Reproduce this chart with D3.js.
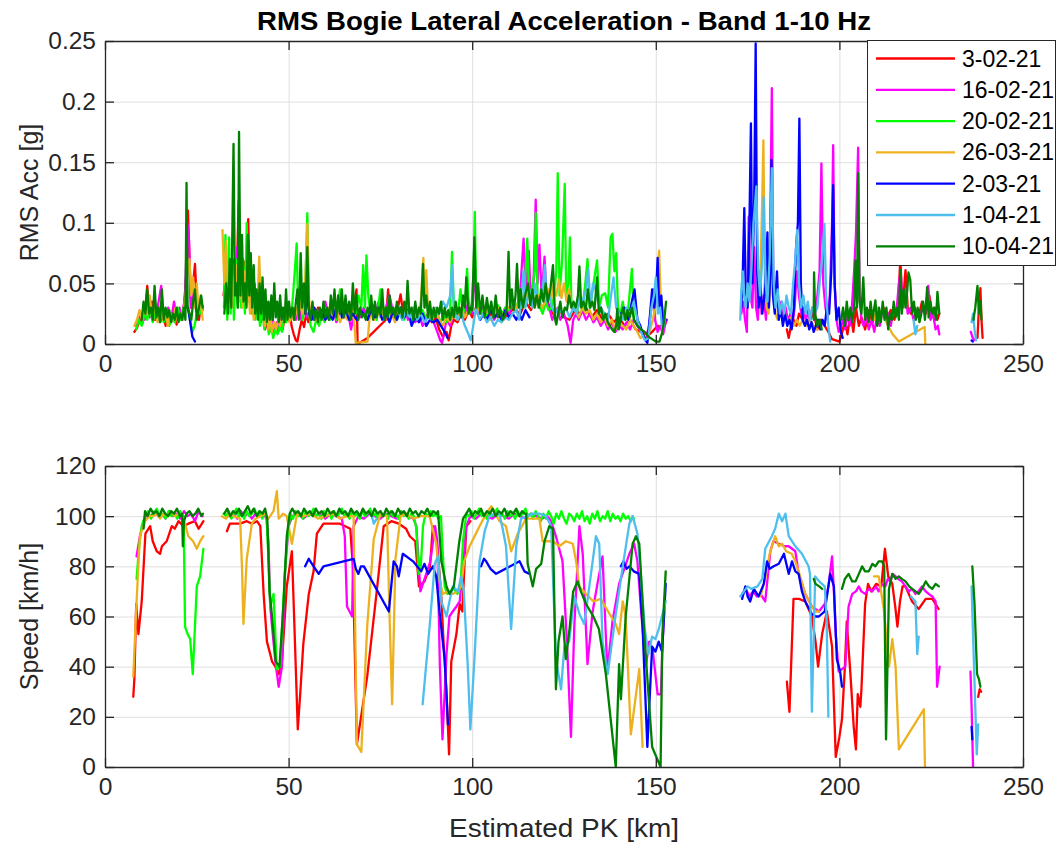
<!DOCTYPE html>
<html><head><meta charset="utf-8">
<script src="https://cdn.jsdelivr.net/npm/d3@7"></script>
<style>
html,body{margin:0;padding:0;background:#fff;}
svg{display:block;font-family:"Liberation Sans",Arial,Helvetica,sans-serif;}
</style></head>
<body>
<svg id="chart" width="1060" height="845"></svg>
<script>
// ---------- labels / ticks ----------
const chartTitle = "RMS Bogie Lateral Acceleration - Band 1-10 Hz";
const seriesNames = ["3-02-21","16-02-21","20-02-21","26-03-21","2-03-21","1-04-21","10-04-21"];
const seriesColors = ["#FF0000","#FF00FF","#00FF00","#EDB120","#0000FF","#4DBEEE","#008000"];
const xTicks = [0,50,100,150,200,250];
const accTicks = [0,0.05,0.1,0.15,0.2,0.25];
const accTickLabels = ["0","0.05","0.1","0.15","0.2","0.25"];
const spdTicks = [0,20,40,60,80,100,120];
const xLabel = "Estimated PK [km]";
const accLabel = "RMS Acc [g]";
const spdLabel = "Speed [km/h]";

// ---------- RMS acceleration [g] vs PK [km] (null = gap) ----------
const acc_3_02_21 = [[8,0.010],[8.8,0.014],[9.5,0.02],[10.2,0.017],[11,0.03],[11.5,0.048],[12,0.025],[12.8,0.035],[13.5,0.02],[14.2,0.03],[15,0.018],[15.8,0.026],[16.5,0.015],[17.3,0.024],[18,0.018],[18.8,0.028],[19.5,0.016],[20.3,0.025],[21,0.02],[21.6,0.035],[22.2,0.06],[22.6,0.11],[23,0.07],[23.4,0.03],[24,0.05],[24.5,0.066],[25,0.035],[25.6,0.02],[26.2,0.035],[26.6,0.03],null,
[32.3,0.04],[32.9,0.06],[33.4,0.03],[34,0.055],[34.6,0.035],[35.2,0.07],[35.8,0.045],[36.4,0.118],[36.9,0.05],[37.5,0.04],[38.1,0.068],[38.6,0.035],[39,0.103],[39.5,0.04],[40.1,0.03],[40.7,0.05],[41.3,0.025],[41.9,0.04],[42.5,0.018],[43,0.028],[43.6,0.012],[44.2,0.02],[44.8,0.01],[45.4,0.016],[46,0.008],[46.6,0.015],[47.2,0.01],[47.8,0.02],[48.4,0.012],[49,0.025],[49.6,0.02],[50.2,0.03],[50.8,0.015],[51.4,0.008],[52,0.003],[52.4,0.002],[53,0.012],[53.6,0.02],[54.2,0.014],[54.8,0.025],[55.4,0.018],[56,0.028],[57,0.02],[58,0.03],[59,0.022],[60,0.028],[61,0.02],[62,0.03],[63,0.024],[64,0.032],[65,0.022],[66,0.03],[67,0.025],[68,0.035],[68.5,0.045],[68.8,0.0],[71.5,0.005],[76.5,0.02],[77.1,0.045],[77.6,0.025],[78.3,0.03],[79,0.022],[79.8,0.03],[80.5,0.041],[81.2,0.025],[82,0.03],[83,0.022],[84,0.028],[85,0.02],[86,0.026],[87,0.02],[88,0.025],[89,0.018],[90,0.022],[91,0.012],[92,0.006],[93,0.01],[93.6,0.003],[94.3,0.015],[95,0.02],[96,0.018],[97,0.025],[98,0.02],[99,0.028],[100,0.022],[101,0.03],[102.5,0.025],[104,0.03],[105.5,0.022],[107,0.028],[108.5,0.02],[110,0.025],[111.5,0.03],[113,0.024],[114.5,0.035],[116,0.028],[117.5,0.04],[119,0.03],[120.5,0.035],[122,0.025],[123.5,0.03],[125,0.022],[126.5,0.02],[128,0.028],[129.5,0.025],[131,0.03],[132.5,0.022],[134,0.028],[135.5,0.02],[137,0.025],[138.5,0.018],[140,0.022],[141.5,0.015],[143,0.02],[144.5,0.012],[146,0.01],[147.5,0.006],[149,0.01],[150.5,0.015],[152,0.012],[153,0.02],null,
[185.7,0.012],[186.2,0.005],[186.8,0.015],[187.5,0.02],[188.3,0.015],[189,0.025],[190,0.02],[191,0.03],[192,0.02],[193,0.025],[194,0.012],[195,0.02],[196,0.015],[197,0.01],[198,0.004],[199,0.003],[200,0.002],[200.8,0.01],[201.5,0.02],[202.2,0.008],[203,0.025],[203.8,0.01],[204.5,0.03],[205.3,0.015],[206,0.022],[207,0.012],[208,0.028],[209,0.018],[210,0.025],[211,0.02],[212,0.03],[213,0.022],[214,0.028],[215,0.02],[216,0.035],[216.6,0.07],[217.2,0.03],[218,0.061],[218.6,0.03],[219.5,0.025],[220.5,0.03],[221.5,0.022],[222.5,0.035],[223.5,0.025],[224.5,0.04],[225.2,0.025],[226,0.03],[226.7,0.02],[227.2,0.025],null,
[237.6,0.005],[238,0.03],[238.4,0.046],[238.7,0.02],[239,0.005]];

const acc_16_02_21 = [[8.5,0.015],[9.2,0.02],[10,0.025],[10.8,0.02],[11.5,0.035],[12.2,0.022],[13,0.03],[13.8,0.02],[14.6,0.035],[15.3,0.048],[15.8,0.025],[16.5,0.02],[17.2,0.03],[18,0.02],[18.8,0.035],[19.5,0.022],[20.3,0.03],[21,0.02],[21.8,0.04],[22.4,0.1],[22.9,0.085],[23.4,0.03],[24,0.045],[24.6,0.03],[25.3,0.025],[26,0.035],[26.6,0.028],null,
[32.5,0.04],[33,0.03],[33.6,0.05],[34.2,0.035],[34.8,0.06],[35.4,0.04],[36,0.08],[36.5,0.05],[37,0.06],[37.6,0.04],[38.2,0.06],[38.8,0.035],[39.4,0.05],[40,0.03],[40.6,0.04],[41.2,0.025],[41.8,0.035],[42.4,0.022],[43,0.03],[43.6,0.018],[44.2,0.028],[44.8,0.015],[45.5,0.025],[46.2,0.01],[46.8,0.018],[47.5,0.012],[48.2,0.025],[49,0.018],[49.8,0.03],[50.5,0.022],[51.2,0.03],[52,0.02],[52.8,0.03],[53.5,0.02],[54.3,0.032],[55,0.022],[56,0.03],[57,0.02],[58,0.028],[59,0.022],[60,0.035],[61,0.02],[62,0.03],[63,0.018],[64,0.028],[65,0.022],[66,0.03],[67,0.012],[67.5,0.02],[68.5,0.03],[69.5,0.022],[70.5,0.03],[71.5,0.02],[72.5,0.028],[73.5,0.022],[74.5,0.035],[75.5,0.025],[76.5,0.03],[77.5,0.04],[78.5,0.025],[79.5,0.032],[80.5,0.024],[81.5,0.03],[82.5,0.02],[83.5,0.028],[84.5,0.018],[85.5,0.025],[86.5,0.015],[87.5,0.02],[88.5,0.025],[89.5,0.018],[90.5,0.01],[91.3,0.003],[91.8,0.001],[92.4,0.01],[93,0.02],[94,0.015],[95,0.025],[96,0.02],[97,0.03],[98,0.025],[99,0.035],[100,0.025],[100.7,0.06],[101.3,0.03],[102,0.025],[103,0.03],[104,0.022],[105,0.028],[106,0.02],[107,0.026],[108,0.022],[109,0.03],[110,0.024],[111,0.035],[112,0.028],[113,0.04],[114,0.087],[114.6,0.04],[115.4,0.077],[116,0.035],[116.7,0.05],[117.3,0.119],[117.8,0.05],[118.3,0.082],[118.9,0.04],[119.7,0.072],[120.3,0.035],[121,0.03],[121.8,0.02],[122.5,0.025],[123.3,0.03],[124,0.02],[125,0.025],[126,0.015],[126.8,0.001],[127.5,0.02],[128.3,0.025],[129,0.02],[130,0.028],[131,0.02],[132,0.025],[133,0.018],[134,0.022],[135,0.015],[136,0.02],[137,0.012],[138,0.018],[139,0.01],[140,0.015],[141,0.012],[142,0.018],[143,0.012],[144,0.02],[145,0.015],[146,0.01],[147,0.005],[148,0.012],[148.8,0.03],[149.3,0.045],[149.8,0.02],[150.5,0.01],[151.2,0.015],[152,0.008],[152.8,0.02],null,
[173.3,0.025],[173.8,0.035],[174.3,0.02],[174.8,0.01],[175.3,0.105],[175.8,0.04],[176.3,0.03],[176.8,0.08],[177.3,0.03],[177.8,0.02],[178.3,0.06],[178.8,0.025],[179.4,0.04],[180,0.02],[180.6,0.06],[181.1,0.08],[181.6,0.211],[182,0.05],[182.5,0.03],[183,0.045],[183.6,0.025],[184.2,0.035],[184.8,0.02],[185.4,0.03],[186,0.018],[186.6,0.025],[187.2,0.015],[187.8,0.03],[188.4,0.06],[189,0.04],[189.6,0.025],[190.2,0.03],[190.8,0.02],[191.4,0.025],[192,0.02],[192.6,0.03],[193.2,0.02],[194,0.04],[194.6,0.06],[195.1,0.149],[195.6,0.05],[196.2,0.03],[196.8,0.02],[197.4,0.04],[198,0.1],[198.3,0.164],[198.7,0.05],[199.2,0.02],[199.8,0.01],[200.5,0.015],[201,0.02],[201.6,0.012],[202.2,0.025],[202.8,0.015],[203.4,0.03],[204,0.06],[204.5,0.09],[205.1,0.162],[205.5,0.04],[206,0.02],[206.6,0.015],[207.2,0.025],[208,0.012],[208.8,0.02],[209.5,0.01],[210.2,0.022],[211,0.015],[211.8,0.03],[212.5,0.02],[213.3,0.025],[214,0.015],[214.8,0.03],[215.5,0.025],[216.2,0.05],[216.7,0.06],[217.2,0.03],[218,0.045],[218.6,0.025],[219.4,0.03],[220.2,0.02],[221,0.028],[221.8,0.02],[222.6,0.03],[223.4,0.025],[224.2,0.048],[224.8,0.02],[225.5,0.025],[226.2,0.012],[226.8,0.015],[227.2,0.008],null,
[235.8,0.01],[236.2,0.006],[236.6,0.003],[237,0.004]];

const acc_20_02_21 = [[8.5,0.012],[9.2,0.02],[10,0.015],[10.8,0.025],[11.5,0.02],[12.2,0.03],[13,0.018],[13.8,0.028],[14.5,0.02],[15.2,0.032],[16,0.018],[16.8,0.025],[17.5,0.015],[18.2,0.022],[19,0.018],[19.8,0.03],[20.5,0.02],[21.2,0.028],[22,0.035],[22.6,0.03],[23.2,0.02],[23.8,0.01],[24.4,0.015],[25,0.025],[25.6,0.035],[26.2,0.025],[26.7,0.03],null,
[32.4,0.03],[32.8,0.09],[33.3,0.02],[33.8,0.088],[34.2,0.025],[34.7,0.065],[35.1,0.02],[35.6,0.07],[36.1,0.03],[36.6,0.09],[37.1,0.03],[37.6,0.07],[38.1,0.025],[38.6,0.1],[39,0.035],[39.5,0.055],[40,0.025],[40.5,0.045],[41,0.02],[41.6,0.04],[42.2,0.015],[42.8,0.03],[43.4,0.012],[44,0.025],[44.6,0.008],[45.2,0.015],[45.8,0.005],[46.4,0.012],[47,0.008],[47.6,0.015],[48.2,0.01],[48.8,0.022],[49.4,0.018],[50,0.03],[50.6,0.02],[51.2,0.04],[51.8,0.065],[52.2,0.083],[52.6,0.03],[53.2,0.05],[53.8,0.02],[54.4,0.03],[55.1,0.108],[55.5,0.03],[56,0.015],[56.8,0.01],[57.5,0.02],[58.3,0.015],[59,0.025],[59.8,0.018],[60.5,0.028],[61.3,0.02],[62,0.03],[63,0.02],[64,0.045],[64.5,0.025],[65.5,0.03],[66.5,0.02],[67.5,0.035],[68.3,0.025],[69,0.04],[69.8,0.03],[70.3,0.065],[70.8,0.03],[71.2,0.073],[71.7,0.04],[72.3,0.025],[73,0.032],[74,0.02],[75,0.045],[75.8,0.025],[76.5,0.03],[77.5,0.022],[78.5,0.03],[79.5,0.02],[80.5,0.028],[81.5,0.02],[82.5,0.03],[83.5,0.018],[84.5,0.025],[85.5,0.02],[86.5,0.028],[87.5,0.02],[88.5,0.03],[89.5,0.022],[90.5,0.028],[91.3,0.015],[92,0.025],[93,0.018],[94,0.03],[94.5,0.076],[95,0.03],[96,0.02],[96.8,0.045],[97.5,0.025],[98,0.03],[98.6,0.062],[99.2,0.025],[99.8,0.03],[100.4,0.06],[100.7,0.109],[101.1,0.04],[101.7,0.03],[102.5,0.025],[103.3,0.03],[104,0.022],[105,0.03],[106,0.025],[107,0.032],[108,0.024],[109,0.03],[110,0.028],[111,0.035],[112,0.03],[113,0.04],[114,0.03],[115,0.087],[115.5,0.04],[116.2,0.045],[117,0.06],[117.3,0.108],[117.8,0.04],[118.5,0.03],[119.2,0.025],[120,0.035],[120.8,0.028],[121.6,0.03],[122.3,0.04],[122.9,0.06],[123.3,0.141],[123.8,0.04],[124.5,0.07],[125.2,0.132],[125.6,0.04],[126.2,0.05],[126.6,0.088],[127,0.035],[127.8,0.03],[128.5,0.025],[129.2,0.035],[130,0.028],[130.8,0.05],[131.4,0.07],[132,0.03],[132.6,0.04],[133.3,0.055],[134,0.069],[134.6,0.03],[135.3,0.04],[136.2,0.042],[137,0.03],[137.7,0.088],[138.2,0.091],[138.7,0.06],[139.2,0.075],[139.7,0.03],[140.4,0.025],[141,0.035],[141.8,0.02],[142.5,0.03],[143.5,0.062],[144,0.02]];

const acc_26_03_21 = [[8,0.015],[8.7,0.02],[9.4,0.028],[10.1,0.02],[10.8,0.03],[11.5,0.025],[12.2,0.04],[12.9,0.02],[13.6,0.035],[14.3,0.018],[15,0.03],[15.7,0.02],[16.4,0.028],[17.1,0.015],[17.8,0.025],[18.5,0.02],[19.2,0.03],[19.9,0.018],[20.6,0.025],[21.3,0.02],[21.9,0.04],[22.5,0.06],[23,0.07],[23.5,0.04],[24,0.055],[24.5,0.03],[25,0.05],[25.5,0.025],[26,0.04],[26.6,0.02],null,
[32,0.094],[32.5,0.05],[33,0.085],[33.5,0.04],[34,0.06],[34.5,0.03],[35,0.055],[35.5,0.04],[36,0.065],[36.5,0.035],[37,0.05],[37.5,0.03],[38,0.06],[38.5,0.03],[39,0.05],[39.5,0.025],[40,0.045],[40.5,0.02],[41,0.04],[41.5,0.03],[42,0.072],[42.5,0.03],[43,0.045],[43.5,0.015],[44,0.03],[44.5,0.012],[45,0.02],[45.5,0.01],[46,0.018],[46.6,0.012],[47.2,0.02],[47.8,0.015],[48.4,0.028],[49,0.02],[49.6,0.03],[50.2,0.018],[50.8,0.025],[51.4,0.02],[52,0.03],[52.6,0.022],[53.2,0.035],[53.8,0.025],[54.4,0.04],[55.1,0.099],[55.5,0.04],[56,0.02],[57,0.025],[58,0.018],[59,0.028],[60,0.02],[61,0.03],[62,0.022],[63,0.028],[64,0.018],[65,0.025],[66,0.02],[67,0.03],[67.8,0.02],[68.3,0.001],[71.5,0.002],[72,0.02],[72.8,0.03],[73.5,0.02],[74.3,0.028],[75,0.022],[76,0.03],[77,0.02],[78,0.025],[79,0.018],[80,0.028],[81,0.02],[82,0.03],[83,0.022],[84,0.025],[85,0.02],[86,0.035],[86.7,0.071],[87.1,0.03],[87.5,0.061],[88,0.025],[89,0.02],[90,0.028],[91,0.02],[92,0.015],[93,0.022],[94,0.018],[95,0.025],[96,0.02],[97,0.03],[98,0.022],[99,0.028],[100,0.03],[101,0.025],[102,0.03],[103,0.022],[104,0.028],[105,0.02],[106,0.025],[107,0.03],[108,0.022],[109,0.028],[110,0.03],[111,0.035],[112,0.028],[113,0.04],[114,0.03],[115,0.045],[116,0.035],[117,0.03],[118,0.04],[119,0.03],[120,0.035],[120.8,0.045],[121.5,0.036],[122.2,0.05],[122.9,0.04],[123.6,0.053],[124.3,0.038],[125,0.05],[125.7,0.035],[126.4,0.045],[127,0.03],[128,0.028],[129,0.022],[130,0.03],[131,0.025],[132,0.028],[133,0.02],[134,0.025],[135,0.018],[136,0.022],[137,0.015],[138,0.02],[139,0.012],[140,0.018],[141,0.015],[142,0.012],[143,0.02],[144,0.015],[145,0.01],[145.8,0.005],[147.8,0.008],[148.5,0.012],[149.2,0.02],[149.8,0.03],[150.3,0.055],[150.9,0.077],[151.3,0.04],[151.8,0.03],[152.4,0.02],null,
[178,0.03],[178.5,0.06],[179,0.12],[179.3,0.168],[179.7,0.05],[180.2,0.03],[180.7,0.025],[181.2,0.05],[181.6,0.14],[182,0.04],[182.6,0.025],[183.2,0.02],[183.8,0.03],[184.5,0.02],[185.2,0.025],[186,0.018],[186.8,0.022],[187.6,0.015],[188.4,0.02],[189.2,0.015],[190,0.02],[191,0.015],[192,0.02],[193,0.015],[194,0.012],null,
[209.5,0.02],[210.3,0.03],[211,0.022],[211.8,0.03],[212.5,0.02],[213.4,0.014],[214.5,0.008],[216.2,0.002],[223.2,0.014],[223.4,0.0]];

const acc_2_03_21 = [[22.6,0.03],[23.2,0.018],[23.8,0.006],[24.5,0.002],null,
[54.5,0.025],[55,0.042],[55.6,0.025],[56.3,0.02],[57,0.03],[58,0.022],[59,0.028],[60,0.02],[61,0.025],[62,0.02],[63,0.03],[63.8,0.035],[64.5,0.022],[65.5,0.028],[66.5,0.02],[67.5,0.025],[68.5,0.02],[69.5,0.028],[70.5,0.025],[71.5,0.02],[72.5,0.028],[73.5,0.022],[74.5,0.03],[75.5,0.02],[76.5,0.025],[77.5,0.018],[78.5,0.028],[79.5,0.02],[80.5,0.03],[81.5,0.022],[82.5,0.028],[83.5,0.015],[84.5,0.022],[85.5,0.018],[86.5,0.025],[87.5,0.015],[88.5,0.02],[89.5,0.018],[90.5,0.02],[91.5,0.015],[92.5,0.01],[93.3,0.005],null,
[102.2,0.02],[103,0.025],[104,0.02],[105,0.028],[106,0.022],[107,0.025],[108,0.02],[109,0.028],[110,0.022],[111,0.025],[112,0.02],[112.8,0.025],[113.5,0.02],[114.5,0.028],[115.6,0.022],null,
[140.5,0.025],[141.5,0.03],[142.5,0.02],[143.5,0.035],[144.2,0.045],[145,0.02],[145.8,0.015],[146.5,0.008],[147.2,0.003],[147.7,0.001],[148.3,0.02],[149,0.045],[149.6,0.03],[150.2,0.05],[150.5,0.071],[150.9,0.03],[151.5,0.04],[152,0.015],[152.7,0.02],null,
[173.3,0.03],[173.7,0.06],[174.1,0.112],[174.5,0.04],[175,0.03],[175.5,0.1],[175.9,0.182],[176.3,0.05],[176.8,0.12],[177.2,0.248],[177.6,0.06],[178,0.03],[178.5,0.05],[179,0.025],[179.6,0.04],[180.1,0.07],[180.4,0.092],[180.8,0.03],[181.2,0.06],[181.5,0.152],[181.9,0.04],[182.4,0.025],[183,0.06],[183.5,0.02],[184,0.03],[184.6,0.015],[185.2,0.025],[185.8,0.015],[186.4,0.02],[187,0.012],[187.6,0.03],[188.2,0.08],[188.7,0.1],[189.1,0.186],[189.5,0.05],[190,0.02],[190.6,0.015],[191.2,0.02],[191.8,0.012],[192.4,0.018],[193,0.01],[193.6,0.015],[194.2,0.02],[194.8,0.012],[195.4,0.02],[196,0.015],[196.6,0.03],[197.2,0.025],[197.8,0.06],[198.3,0.131],[198.7,0.05],[199.2,0.02],[199.8,0.03],[200.4,0.01],[200.9,0.005],null,
[236,0.003],[236.3,0.002]];

const acc_1_04_21 = [[80,0.025],[81,0.02],[82,0.028],[83,0.022],[84,0.03],[85,0.02],[86,0.025],[87,0.018],[88,0.022],[89,0.02],[90,0.03],[91,0.025],[92,0.035],[93,0.03],[94,0.04],[94.5,0.065],[95,0.03],[96,0.02],[97,0.025],[98,0.015],[99,0.008],[99.6,0.003],[100.3,0.015],[101,0.03],[102,0.02],[103,0.025],[104,0.018],[105,0.022],[106,0.015],[107,0.02],[108,0.018],[109,0.022],[110,0.02],[111,0.025],[112,0.028],[112.8,0.02],[113.3,0.04],[114,0.06],[114.5,0.03],[115.5,0.045],[116.3,0.03],[117,0.05],[118,0.03],[119,0.04],[119.8,0.065],[120.3,0.035],[121,0.04],[121.7,0.03],[122.5,0.025],[123.5,0.03],[124.5,0.025],[125.5,0.03],[126.5,0.022],[127.5,0.03],[128.5,0.025],[129.3,0.04],[130.2,0.035],[131,0.045],[131.6,0.062],[132.2,0.03],[132.9,0.05],[133.6,0.045],[134.3,0.035],[135,0.03],[136,0.025],[137,0.02],[137.8,0.04],[138.5,0.055],[139.2,0.03],[140,0.025],[141,0.02],[142,0.03],[143,0.025],[144,0.035],[145,0.02],[146,0.01],[147,0.003],[148,0.005],[148.8,0.03],[149.5,0.04],[150,0.055],[150.6,0.025],[151.2,0.03],[151.8,0.01],[152.5,0.02],null,
[173,0.02],[173.3,0.045],[173.7,0.06],[174,0.041],[174.5,0.03],[175,0.05],[175.5,0.035],[176,0.06],[176.6,0.1],[177.4,0.13],[177.9,0.06],[178.4,0.04],[179,0.07],[179.4,0.121],[179.9,0.05],[180.4,0.035],[181,0.07],[181.6,0.145],[182.1,0.05],[182.6,0.03],[183.2,0.045],[183.8,0.025],[184.4,0.035],[185,0.025],[185.6,0.04],[186.2,0.03],[186.8,0.025],[187.4,0.05],[188,0.07],[188.5,0.094],[189,0.05],[189.6,0.03],[190.2,0.04],[190.8,0.025],[191.4,0.035],[192,0.02],[192.6,0.03],[193.2,0.025],[194,0.03],[194.6,0.05],[195.3,0.07],[195.9,0.099],[196.4,0.04],[197,0.015],[197.5,0.002],null,
[220.2,0.02],[220.7,0.008],[221.2,0.015],null,
[236,0.018],[236.4,0.025],[236.8,0.012],[237.2,0.003]];

const acc_10_04_21 = [[10,0.02],[10.5,0.035],[11,0.025],[11.5,0.045],[12,0.025],[12.5,0.03],[13,0.02],[13.5,0.048],[14,0.022],[14.5,0.03],[15,0.018],[15.5,0.045],[16,0.02],[16.5,0.03],[17,0.022],[17.5,0.028],[18,0.018],[18.5,0.025],[19,0.02],[19.5,0.03],[20,0.018],[20.5,0.025],[21,0.02],[21.5,0.03],[21.9,0.02],[22.2,0.133],[22.5,0.03],[23,0.025],[23.5,0.02],[24,0.035],[24.5,0.045],[25,0.02],[25.6,0.03],[26.2,0.04],[26.6,0.03],null,
[32.5,0.025],[33,0.05],[33.5,0.025],[34,0.07],[34.4,0.03],[35,0.165],[35.4,0.04],[35.8,0.05],[36.2,0.03],[36.5,0.175],[36.9,0.04],[37.3,0.09],[37.7,0.035],[38.1,0.05],[38.5,0.03],[38.9,0.09],[39.3,0.04],[39.7,0.075],[40.1,0.03],[40.5,0.065],[40.9,0.025],[41.3,0.045],[41.7,0.02],[42.1,0.05],[42.5,0.025],[42.9,0.055],[43.3,0.02],[43.7,0.045],[44.1,0.018],[44.5,0.035],[44.9,0.02],[45.3,0.04],[45.7,0.02],[46.1,0.05],[46.5,0.022],[46.9,0.035],[47.3,0.018],[47.7,0.04],[48.1,0.02],[48.5,0.03],[48.9,0.018],[49.3,0.045],[49.7,0.02],[50.1,0.035],[50.5,0.022],[51,0.03],[51.5,0.02],[52,0.035],[52.4,0.045],[52.8,0.02],[53.3,0.075],[53.7,0.03],[54.2,0.05],[54.6,0.025],[55.1,0.08],[55.5,0.03],[56,0.02],[56.5,0.035],[57,0.02],[57.5,0.028],[58,0.018],[58.5,0.03],[59,0.02],[59.5,0.035],[60,0.022],[60.5,0.03],[61,0.02],[61.5,0.04],[62,0.025],[62.5,0.045],[63,0.022],[63.5,0.04],[64,0.025],[64.5,0.045],[65,0.022],[65.5,0.04],[66,0.025],[66.5,0.035],[67,0.02],[67.5,0.05],[68,0.025],[68.5,0.04],[69,0.02],[69.5,0.03],[70,0.022],[70.5,0.025],[71,0.02],[71.5,0.03],[72,0.025],[72.5,0.04],[73,0.02],[73.5,0.035],[74,0.022],[74.5,0.03],[75,0.025],[75.5,0.045],[76,0.02],[76.5,0.03],[77,0.022],[77.5,0.04],[78,0.025],[78.5,0.03],[79,0.022],[79.5,0.035],[80,0.025],[80.5,0.03],[81,0.022],[81.5,0.035],[82,0.025],[82.4,0.052],[82.9,0.025],[83.5,0.03],[84,0.02],[84.5,0.035],[85,0.022],[85.5,0.03],[86,0.025],[86.6,0.066],[87,0.03],[87.5,0.04],[88,0.022],[88.5,0.035],[89,0.02],[89.5,0.03],[90,0.022],[90.5,0.03],[91,0.025],[91.5,0.035],[92,0.02],[92.5,0.03],[93,0.022],[93.5,0.028],[94,0.02],[94.5,0.03],[95,0.022],[95.5,0.035],[96,0.025],[96.5,0.03],[97,0.022],[97.5,0.04],[98,0.03],[98.4,0.055],[99,0.025],[99.5,0.03],[100,0.028],[100.6,0.088],[101.1,0.03],[101.6,0.05],[102.2,0.025],[102.8,0.04],[103.4,0.022],[104,0.038],[104.6,0.025],[105.2,0.035],[105.8,0.022],[106.4,0.04],[107,0.022],[107.6,0.03],[108.2,0.02],[108.8,0.022],[109.4,0.03],[109.9,0.076],[110.3,0.03],[110.8,0.045],[111.3,0.028],[111.8,0.04],[112.2,0.066],[112.7,0.03],[113.2,0.045],[113.8,0.03],[114.4,0.04],[115.2,0.05],[115.8,0.032],[116.4,0.045],[117,0.03],[117.6,0.04],[118.2,0.03],[118.8,0.045],[119.4,0.035],[120,0.05],[120.6,0.035],[121.3,0.045],[122,0.065],[122.6,0.02],[122.9,0.016],[123.4,0.025],[124,0.035],[124.6,0.022],[125.2,0.03],[125.8,0.028],[126.4,0.04],[127,0.03],[127.6,0.035],[128.2,0.03],[128.8,0.04],[129.2,0.064],[129.7,0.03],[130.3,0.035],[130.9,0.028],[131.5,0.045],[132.1,0.03],[132.7,0.035],[133.3,0.028],[134,0.055],[134.5,0.025],[135.1,0.03],[135.7,0.02],[136.3,0.025],[136.9,0.018],[137.5,0.015],[138.1,0.012],[138.7,0.01],[139.2,0.015],[139.5,0.029],[139.9,0.012],[140.5,0.022],[141.1,0.03],[141.7,0.02],[142.3,0.028],[142.9,0.022],[143.5,0.03],[144.1,0.02],[145,0.015],[146,0.012],[147,0.01],[148,0.006],[149,0.004],[150,0.002],[151,0.002],[151.8,0.01],[152.3,0.02],[152.8,0.035],null,
[193,0.02],[193.1,0.059],[193.4,0.025],[194,0.015],[194.6,0.02],[195.2,0.012],null,
[200.5,0.02],[201,0.03],[201.5,0.015],[202,0.035],[202.5,0.02],[203,0.03],[203.5,0.018],[204,0.03],[204.4,0.069],[204.8,0.03],[205.1,0.141],[205.5,0.035],[206,0.025],[206.5,0.055],[207,0.02],[207.5,0.03],[208,0.018],[208.5,0.035],[209,0.02],[209.8,0.036],[210.3,0.015],[210.8,0.03],[211.3,0.018],[211.8,0.035],[212.3,0.02],[212.8,0.03],[213.3,0.012],[213.8,0.025],[214.3,0.02],[214.8,0.035],[215.3,0.022],[215.8,0.03],[216.2,0.02],[216.6,0.061],[217,0.025],[217.5,0.045],[218,0.03],[218.5,0.045],[218.8,0.059],[219.3,0.053],[219.8,0.025],[220.3,0.035],[220.8,0.02],[221.3,0.03],[221.8,0.018],[222.3,0.025],[222.8,0.035],[223.3,0.02],[223.9,0.047],[224.3,0.022],[224.8,0.035],[225.3,0.025],[225.8,0.03],[226.3,0.02],[226.7,0.043],[227.2,0.025],null,
[236.5,0.02],[237,0.03],[237.6,0.048],[238,0.025],[238.4,0.035],[238.7,0.02]];

// ---------- Speed [km/h] vs PK [km] (null = gap) ----------
const spd_3_02_21 = [[7.7,28],[8,35],[8.5,65],[9.1,53],[10,66],[11,93],[12.3,96],[13,90],[14.1,86],[15,85],[15.5,88],[16.8,90],[18.2,96],[19,95],[20,98],[21.4,96],[22.7,97],[24.5,98],[25.5,95],[26.4,97],[26.8,98],null,
[33.2,94],[34,97],[35,97],[36.8,97],[38.6,98],[40,97],[41.4,98],[42.3,96],[43.2,69],[44.1,50],[45,45],[45.5,42],[46.4,40],[47.3,37],[48.2,42],[49.5,72],[50.9,86],[51.5,60],[52.5,15],[53.2,30],[54,49],[55.5,69],[56.8,78],[57.7,93],[59.5,97],[62,97],[64,97],[66.8,95],[67.5,80],[68.6,9],[71.4,36],[74,70],[75.9,96],[78,98],[80,97],[82,95],[83,92],[84.5,90],[85.5,72],[87,74],[88.5,80],[89.3,96],[90.5,88],[91.5,70],[92.2,50],[93,30],[93.7,5],[94.3,42],[95.7,53],[96.6,65],[97.3,62],[98.4,96],[99.5,98],null,
[185.7,34],[186.4,22],[187.5,67],[189,67],[190.7,66],[192.5,60],[193.5,50],[194.2,40],[195.3,53],[196.6,62],[197.3,55],[198,48],[199,4],[200,12],[200.7,19],[201.5,40],[202,58],[203,37],[203.9,16],[204.5,7],[205,29],[205.7,24],[206,31],[207,65],[207.8,73],[208.7,70],[210,73],[211.4,72],[212.4,87],[213.3,76],[214.4,73],[215.2,64],[215.8,56],[216.5,66],[217.2,72],[218,72],[219.8,66],[221.6,63],[223.5,67],[225.3,67],[226.6,64],[227,63],null,
[237.8,28],[238.2,31],[238.6,30]];

const spd_16_02_21 = [[8.6,84],[9.5,92],[10.5,98],[11.4,101],[12.5,100],[13.5,102],[14.5,100],[15.5,101],[16.5,99],[17.5,102],[18.5,100],[19.5,101],[20.5,99],[21.5,102],[22.5,100],[23.5,101],[24.5,98],[25.5,102],[26.6,100],null,
[33.7,100],[35,101],[36,99],[37,102],[38,100],[39,101],[40,99],[41,101],[42,100],[43,101],[44,99],[44.5,90],[45,64],[45.5,56],[46.4,42],[47.3,32],[48.2,40],[49,78],[50,96],[51,100],[52.5,101],[54,99],[55.5,101],[57,100],[58.5,101],[60,99],[61.5,101],[63,100],[64.5,99],[65.3,92],[65.9,64],[67.3,60],[67.7,96],[69,100],[70.5,99],[72,101],[73.5,100],[75,99],[76.5,101],[78,100],[79.5,99],[81,101],[82.5,100],[84,99],[84.8,96],[85.9,70],[86.8,74],[88.6,82],[89.9,96],[90.5,90],[91.2,40],[91.9,11],[93,45],[93.8,60],[94.7,62],[95.7,64],[96.6,66],[97.5,80],[98.4,96],[99.5,100],[101,99],[102.5,101],[104,100],[105.5,99],[107,101],[108.5,100],[110,99],[111.5,101],[113,100],[114.5,99],[116,101],[117.5,100],[119,99],[120.5,100],[121.5,98],[122.8,92],[124.6,82],[125.8,50],[126.9,12],[127.8,56],[129.2,96],[130.1,85],[131.4,41],[132.8,62],[134.1,73],[135.5,84],[136.8,38],[138.2,58],[140,73],[142.8,85],[144.1,89],[145,82],[146,62],[147.3,40],[148.2,50],[149.2,46],[150.5,29],[151.4,29],[151.8,48],[152.3,62],null,
[173.5,69],[174.5,71],[175.5,68],[176.5,70],[177.5,68],[178.5,69],[179.8,66],[181.2,86],[182,90],[183.5,89],[185,88],[186.2,88],[188,86],[188.9,77],[190.7,69],[192.5,64],[194.4,62],[196,65],[197,72],[198,84],[198.5,70],[199,53],[199.8,38],[200.7,39],[201.6,40],[202.5,64],[203.5,69],[204.5,70],[205.3,72],[206,70],[207,69],[208,71],[208.9,70],[210,72],[210.7,70],[211.5,73],[212.5,72],[213.2,75],[213.9,74],[214.5,77],[215.3,76],[216,75],[217,74],[218,72],[218.9,70],[219.8,71],[220.7,69],[221.5,70],[222.5,72],[223.5,70],[224.3,69],[225.3,68],[226.2,66],[226.6,32],[227.3,40],null,
[235.7,38],[236,24],[236.4,0]];

const spd_20_02_21 = [[8.6,75],[9.3,88],[10,96],[10.9,100],[11.7,102],[12.5,99],[13.3,101],[14.1,103],[14.9,100],[15.7,101],[16.5,99],[17.3,102],[18.1,100],[18.9,101],[19.7,99],[20.5,102],[21.1,100],[21.4,100],[21.8,56],[22.5,53],[23.2,51],[23.9,37],[25,72],[25.9,76],[26.8,87],null,
[32.3,101],[33,100],[33.7,102],[34.4,99],[35.1,101],[35.8,103],[36.5,100],[37.2,101],[37.9,99],[38.6,102],[39.3,100],[40,101],[40.7,103],[41.4,100],[42.1,102],[42.8,99],[43.5,101],[44,100],[44.6,80],[45,64],[45.9,69],[46.8,39],[47.7,40],[48.6,67],[49.5,89],[50.5,101],[51.2,99],[51.9,102],[52.6,100],[53.3,101],[54,99],[54.7,102],[55.4,100],[56.1,101],[56.8,103],[57.5,100],[58.2,101],[58.9,99],[59.6,102],[60.3,100],[61,101],[61.7,99],[62.4,102],[63.1,100],[63.8,101],[64.5,103],[65.2,100],[65.9,101],[66.6,99],[67.3,102],[68,100],[68.7,101],[69.4,99],[70.1,102],[70.8,100],[71.5,101],[72.2,103],[72.9,100],[73.6,101],[74.3,99],[75,102],[75.7,100],[76.4,101],[77.1,99],[77.8,102],[78.5,100],[79.2,101],[79.9,99],[80.6,102],[81.3,100],[82,101],[82.7,99],[83.4,101],[84.1,100],[84.8,95],[85.4,77],[86,80],[86.6,96],[87.3,101],[88,100],[88.7,102],[89.4,100],[90.1,101],[90.8,99],[91.5,100],[92,85],[92.5,72],[93.2,69],[94,70],[95,71],[96,69],[96.8,72],[97.5,90],[98.4,101],[99.1,100],[99.8,102],[100.5,99],[101.2,101],[101.9,103],[102.6,100],[103.3,101],[104,99],[104.7,102],[105.4,100],[106.1,101],[106.8,103],[107.5,100],[108.2,101],[108.9,99],[109.6,102],[110.3,100],[111,101],[111.7,99],[112.4,102],[113.1,100],[113.8,101],[114.5,103],[115.2,100],[115.9,101],[116.6,99],[117.3,102],[118,100],[118.7,98],[119.4,101],[120.1,99],[120.8,102],[121.5,100],[122.2,97],[122.9,101],[123.6,99],[124.3,102],[125,99],[125.7,97],[126.4,101],[127.1,100],[127.8,98],[128.5,101],[129.2,99],[129.9,102],[130.6,98],[131.3,100],[132,97],[132.7,101],[133.4,99],[134.1,102],[134.8,98],[135.5,100],[136.2,99],[136.9,102],[137.6,98],[138.3,101],[139,99],[139.7,100],[140.4,98],[141.1,101],[141.8,99],[142.5,100],[143.2,98],[143.7,100],[144,99]];

const spd_26_03_21 = [[7.7,36],[8.6,66],[9.5,92],[10.9,98],[12,100],[13.2,100],[14,101],[15,99],[16,101],[17,100],[18,102],[19,100],[20,101],[21.4,99],[22.7,92],[24,90],[25,87],[25.9,90],[26.8,92],null,
[31.8,100],[33,99],[34,101],[35,100],[36.8,99],[37.3,80],[37.7,57],[38.6,83],[40,97],[41,99],[42.3,100],[43.5,101],[44.5,99],[45.9,102],[46.8,110],[47.3,99],[48.5,101],[49.5,100],[50.9,89],[52.3,101],[54,100],[56,101],[58,99],[60,100],[62,101],[64,99],[66,100],[67.7,100],[68.6,9],[69.8,6],[71.4,56],[73.2,91],[75,101],[76.8,100],[77.5,60],[78.2,25],[79.1,83],[80.5,100],[82,101],[84,99],[86,100],[88.4,100],[90.2,89],[91,75],[92,69],[93.4,70],[94.7,69],[96,70],[97,72],[97.8,82],[99.3,88],[102,96],[103.8,101],[105.2,104],[107.4,98],[109.2,96],[110.6,86],[112.4,93],[114.7,99],[118.3,99],[119.2,90],[122,90],[123.7,88],[125.5,90],[127.4,89],[128.3,82],[129.2,72],[131,69],[133,66],[135,67],[137,62],[139.1,57],[140,53],[141,66],[141.8,60],[143.2,13],[145.5,39],[146.4,8],null,
[178.5,68],[179.8,75],[181,85],[182.5,92],[183.5,88],[184.4,89],[185.5,86],[187,85],[188,82],[188.9,78],[190.7,69],[192.5,64],[193.5,62],[194.4,62],null,
[209.4,76],[210.7,76],[212.1,63],[213.5,40],[214.4,51],[215.3,40],[216.2,7],[223,23],[223.3,0]];

const spd_2_03_21 = [[54.5,80],[55.5,83],[56.8,80],[58.2,77],[59.5,80],[67.7,83],[68.3,79],[69,77],[69.7,80],[70.5,80],[77.3,62],[78.6,82],[79.5,80],[80,76],[81.1,85],[83.9,82],[86.1,78],[87,81],[88,77],[89.3,80],[90.2,76],[91.1,62],[92.5,43],[93.4,17],null,
[102.4,80],[103.2,83],[103.8,82],[105,79],[106.5,77],[112.9,82],[114.2,78],[115.6,77],null,
[140.5,80],[141.2,82],[142,79],[142.8,80],[144,78],[145.5,77],[146.4,56],[147.7,8],[149,48],[149.9,46],[150.8,50],[151.7,46],[152.7,73],null,
[173.5,67],[174.4,72],[175,68],[175.7,66],[176.7,71],[178,68],[179.4,73],[180.3,82],[181,79],[182.1,80],[183.5,81],[184.9,85],[186.2,77],[187.1,82],[188,78],[188.9,77],[189.8,70],[190.7,66],[192.5,61],[193.5,60],[194.4,60],[196,62],[197.5,77],[198.5,72],[199.3,43],[200.2,38],[200.7,32],null,
[236,16],[236.2,11]];

const spd_1_04_21 = [[72.5,101],[73.2,97],[74,99],null,
[86.5,25],[88.4,56],[89.8,81],[90.7,84],[91.6,66],[93,60],[93.8,66],[94.7,72],[96.1,70],[97,76],[97.7,70],[98.8,40],[99.5,15],[100.6,43],[102,82],[103.4,94],[104.7,100],[106,101],[107.4,101],[108.3,95],[109.2,88],[110.6,55],[112,88],[113.3,99],[115,100],[116.5,101],[118.3,101],[120.1,100],[121.5,96],[122.8,43],[124.2,31],[125.1,48],[126.4,50],[127.8,68],[129.2,61],[130.5,57],[131.9,72],[133.7,92],[134.6,89],[135.5,50],[136.9,37],[139.1,61],[141,80],[142.8,97],[143.7,100],[145,93],[146,75],[147,55],[148,45],[149,52],[149.9,51],[150.8,55],[152.7,66],null,
[173,68],[174,70],[175,72],[176,71],[177.7,72],[179,75],[179.8,87],[181.6,92],[182.5,95],[183.5,101],[184.4,98],[185.3,101],[186.2,92],[188,88],[189.8,85],[191.6,80],[192,77],[192.5,22],[193.4,76],[194.5,74],[196,72],[196.5,60],[197,20],null,
[219.5,68],[220.7,66],[221.2,45],[221.6,52],null,
[236,72],[236.5,48],[237.4,5],[237.8,17]];

const spd_10_04_21 = [[10.5,95],[10.9,102],[11.6,100],[12.4,103],[13.2,101],[14,102],[14.8,100],[15.6,103],[16.4,101],[17.2,100],[18,102],[18.8,101],[19.6,103],[20.4,100],[21,101],[21.2,88],[21.5,98],[22.2,101],[23,102],[23.8,100],[24.6,101],[25.4,103],[26.2,100],[26.7,101],null,
[32.5,101],[33.3,103],[34.1,100],[34.9,102],[35.7,101],[36.5,103],[37.3,100],[38.1,102],[38.9,104],[39.7,101],[40.5,103],[41.3,100],[42.1,102],[42.9,101],[43.6,103],[44.2,99],[44.8,70],[45.5,60],[46.5,42],[47.5,40],[48.5,62],[49.5,92],[50.3,101],[51,103],[51.8,101],[52.6,102],[53.4,100],[54.2,103],[55,101],[55.8,102],[56.6,100],[57.4,103],[58.2,101],[59,102],[59.8,100],[60.6,103],[61.4,101],[62.2,102],[63,100],[63.8,103],[64.6,101],[65.4,102],[66.2,100],[67,103],[67.8,101],[68.6,102],[69.4,100],[70.2,103],[71,101],[71.8,102],[72.6,100],[73.4,103],[74.2,101],[75,102],[75.8,100],[76.6,103],[77.4,101],[78.2,102],[79,100],[79.8,103],[80.6,101],[81.4,102],[82.2,100],[83,103],[83.8,101],[84.6,102],[85.4,100],[86.2,102],[87,101],[87.8,103],[88.6,100],[89.4,102],[90.2,101],[90.7,102],[91.6,82],[93,72],[93.8,69],[95,72],[96.5,90],[97.5,99],[98.4,101],[99.2,103],[100,100],[100.8,102],[101.6,101],[102.4,103],[103.2,100],[104,102],[104.8,101],[105.6,103],[106.4,100],[107.2,102],[108,101],[108.8,103],[109.6,100],[110.4,102],[111.2,101],[112,103],[112.8,100],[113.6,102],[114.3,101],[114.7,101],[115.1,81],[116.5,72],[117.4,79],[118.8,81],[119.7,90],[121,96],[122,95],[122.8,31],[123.5,50],[124.6,60],[125.5,43],[126.5,55],[127.5,70],[128.7,74],[129.6,70],[131,65],[133,60],[134.5,55],[136.4,37],[139.1,0],[140,41],[140.5,27],[141.8,60],[143.7,89],[144.6,92],[145.5,89],[147,50],[149,8],[151.3,0],[151.8,53],[152.7,78],null,
[193,75],[193.5,73],[194.5,72],[195.3,71],null,
[200.7,71],[201.5,75],[202.5,77],[203.5,74],[204.4,74],[205.3,77],[206.2,80],[207,78],[208,78],[209,81],[209.8,80],[210.7,82],[211.6,82],[212.2,80],[212.7,11],[213.5,71],[214.4,77],[215.3,75],[216.2,76],[217,75],[218,74],[219,72],[219.8,71],[220.7,70],[221.6,69],[222.5,71],[223.5,74],[224.4,72],[225.3,71],[226.2,73],[227.1,72],null,
[236.2,80],[236.8,65],[237.5,37],[238,35],[238.4,32]];

const accSeries = [acc_3_02_21, acc_16_02_21, acc_20_02_21, acc_26_03_21, acc_2_03_21, acc_1_04_21, acc_10_04_21];
const spdSeries = [spd_3_02_21, spd_16_02_21, spd_20_02_21, spd_26_03_21, spd_2_03_21, spd_1_04_21, spd_10_04_21];

// ---------- drawing ----------
const svg = d3.select("#chart");
const L = 105, R = 1023;
const x = d3.scaleLinear().domain([0, 250]).range([L, R]);
const axisColor = "#262626";
const gridColor = "#dfdfdf";
const tickFont = 24.5;
const fontFam = '"Liberation Sans", Arial, Helvetica, sans-serif';

function drawPanel(top, bottom, y, yTickVals, yFmt, series, id) {
  const g = svg.append("g");
  const h = bottom - top;
  g.append("rect").attr("x", L).attr("y", top).attr("width", R - L).attr("height", h).attr("fill", "#fff");
  // grid
  g.append("g").attr("transform", `translate(0,${bottom})`)
    .call(d3.axisBottom(x).tickValues(xTicks).tickSize(-h).tickFormat(""))
    .call(s => { s.select(".domain").remove(); s.selectAll("line").attr("stroke", gridColor).attr("stroke-width", 1); });
  g.append("g").attr("transform", `translate(${L},0)`)
    .call(d3.axisLeft(y).tickValues(yTickVals).tickSize(-(R - L)).tickFormat(""))
    .call(s => { s.select(".domain").remove(); s.selectAll("line").attr("stroke", gridColor).attr("stroke-width", 1); });
  // clip
  svg.append("clipPath").attr("id", id).append("rect")
    .attr("x", L).attr("y", top - 1).attr("width", R - L).attr("height", h + 2);
  const line = d3.line().defined(d => d !== null).x(d => x(d[0])).y(d => y(d[1]));
  const lg = g.append("g").attr("clip-path", `url(#${id})`);
  series.forEach((s, i) => {
    lg.append("path").attr("d", line(s)).attr("fill", "none")
      .attr("stroke", seriesColors[i]).attr("stroke-width", 2.3)
      .attr("stroke-linejoin", "round").attr("stroke-linecap", "round");
  });
  // axes (ticks inside)
  const styleAxis = s => {
    s.select(".domain").attr("stroke", axisColor).attr("stroke-width", 1.3);
    s.selectAll(".tick line").attr("stroke", axisColor).attr("stroke-width", 1.3);
    s.selectAll("text").attr("fill", axisColor).style("font-size", tickFont + "px")
      .style("font-family", fontFam);
  };
  g.append("g").attr("transform", `translate(0,${bottom})`)
    .call(d3.axisBottom(x).tickValues(xTicks).tickSize(-9).tickSizeOuter(0).tickPadding(11)).call(styleAxis);
  g.append("g").attr("transform", `translate(0,${top})`)
    .call(d3.axisTop(x).tickValues(xTicks).tickSize(-9).tickSizeOuter(0).tickFormat("")).call(styleAxis);
  g.append("g").attr("transform", `translate(${L},0)`)
    .call(d3.axisLeft(y).tickValues(yTickVals).tickSize(-9).tickSizeOuter(0).tickPadding(9).tickFormat(yFmt)).call(styleAxis);
  g.append("g").attr("transform", `translate(${R},0)`)
    .call(d3.axisRight(y).tickValues(yTickVals).tickSize(-9).tickSizeOuter(0).tickFormat("")).call(styleAxis);
  return g;
}

const yAcc = d3.scaleLinear().domain([0, 0.25]).range([344, 41]);
const ySpd = d3.scaleLinear().domain([0, 120]).range([767, 466]);

drawPanel(41, 344, yAcc, accTicks, (d, i) => accTickLabels[i], accSeries, "clipA");
drawPanel(466, 767, ySpd, spdTicks, d => String(d), spdSeries, "clipB");

// title & labels
svg.append("text").attr("x", (L + R) / 2).attr("y", 30).attr("text-anchor", "middle")
  .attr("font-weight", "bold").attr("font-size", 26).attr("fill", "#000")
  .attr("textLength", 614).attr("lengthAdjust", "spacingAndGlyphs").text(chartTitle);
svg.append("text").attr("transform", `translate(38,${(41 + 344) / 2}) rotate(-90)`)
  .attr("text-anchor", "middle").attr("font-size", 25).attr("fill", axisColor).text(accLabel);
svg.append("text").attr("transform", `translate(38,${(466 + 767) / 2}) rotate(-90)`)
  .attr("text-anchor", "middle").attr("font-size", 25).attr("fill", axisColor).text(spdLabel);
svg.append("text").attr("x", (L + R) / 2).attr("y", 837).attr("text-anchor", "middle")
  .attr("font-size", 25).attr("fill", axisColor)
  .attr("textLength", 230).attr("lengthAdjust", "spacingAndGlyphs").text(xLabel);

// legend
const lgd = svg.append("g");
lgd.append("rect").attr("x", 867.5).attr("y", 40.5).attr("width", 188).attr("height", 225)
  .attr("fill", "#fff").attr("stroke", axisColor).attr("stroke-width", 1);
seriesNames.forEach((n, i) => {
  const yy = 58.5 + i * 31.3;
  lgd.append("line").attr("x1", 876).attr("x2", 955).attr("y1", yy).attr("y2", yy)
    .attr("stroke", seriesColors[i]).attr("stroke-width", 2.3);
  lgd.append("text").attr("x", 962).attr("y", yy).attr("dy", "0.35em")
    .attr("font-size", 23).attr("fill", "#000").text(n);
});
</script>
</body></html>
